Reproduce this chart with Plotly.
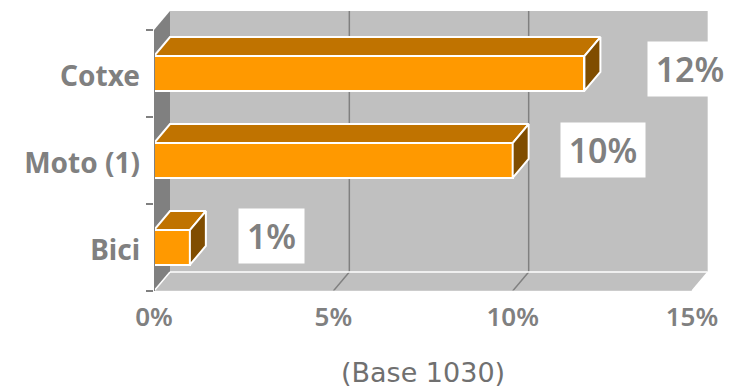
import plotly.graph_objects as go

categories = ["Bici", "Moto (1)", "Cotxe"]
values = [1, 10, 12]
value_labels = ["1%", "10%", "12%"]
x_ticks = [0, 5, 10, 15]
x_tick_labels = ["0%", "5%", "10%", "15%"]
footnote = "(Base 1030)"

ORANGE, TOP, SIDE = "#FF9900", "#C07300", "#804D00"
WALL, SIDEWALL, GREY = "#C0C0C0", "#808080", "#808080"
FONT = "Noto Sans"
W, H = 741, 388
L, R, T, B = 154, 708, 11, 291
DX, DY = 0.446, 0.218      # 3-D depth in axis units
BAR = 0.40
Y0, Y1 = -0.5, 2.5
XMAX = 15 + DX
LABEL_DX = [2.28, 2.52, 2.94]   # label centre distance from bar end
LABEL_DY = [0.13, 0.12, 0.05]
LABEL_W = [63, 82, 82]


def path(pts):
    return "M " + " L ".join(f"{x} {y}" for x, y in pts) + " Z"


shapes = [
    dict(type="path", path=path([(DX, Y0 + DY), (XMAX, Y0 + DY), (XMAX, Y1 + DY), (DX, Y1 + DY)]),
         fillcolor=WALL, line_width=0, layer="below"),
    dict(type="path", path=path([(0, Y0), (DX, Y0 + DY), (DX, Y1 + DY), (0, Y1)]),
         fillcolor=SIDEWALL, line_width=0, layer="below"),
    dict(type="path", path=path([(0, Y0), (15, Y0), (XMAX, Y0 + DY), (DX, Y0 + DY)]),
         fillcolor=WALL, line_width=0, layer="below"),
]
for t in x_ticks[1:-1]:
    shapes.append(dict(type="line", x0=t + DX, x1=t + DX, y0=Y0 + DY, y1=Y1 + DY,
                       line=dict(color=GREY, width=1.5), layer="below"))
    shapes.append(dict(type="line", x0=t, x1=t + DX, y0=Y0, y1=Y0 + DY,
                       line=dict(color=GREY, width=1.5), layer="below"))
shapes += [
    dict(type="line", x0=DX, x1=XMAX, y0=Y0 + DY, y1=Y0 + DY, line=dict(color="white", width=1.5), layer="below"),
    dict(type="line", x0=0, x1=DX, y0=Y0, y1=Y0 + DY, line=dict(color="white", width=1.5), layer="below"),
    dict(type="line", x0=15, x1=XMAX, y0=Y0, y1=Y0 + DY, line=dict(color="white", width=1.5), layer="below"),
    dict(type="line", x0=XMAX, x1=XMAX, y0=Y0 + DY, y1=Y1 + DY, line=dict(color="#E8E8E8", width=1), layer="below"),
    dict(type="line", x0=0, x1=15, y0=Y0, y1=Y0, line=dict(color="#D8D8D8", width=1), layer="below"),
    dict(type="line", x0=0, x1=0, y0=Y0, y1=Y1, line=dict(color=GREY, width=2), layer="above"),
]

fig = go.Figure()
fig.add_trace(go.Bar(y=list(range(len(categories))), x=values, orientation="h", width=BAR,
                     marker=dict(color=ORANGE, line=dict(color="white", width=2)), hoverinfo="skip"))

for i, v in enumerate(values):
    lo, hi = i - BAR / 2, i + BAR / 2
    fig.add_trace(go.Scatter(x=[0, DX, v + DX, v, 0], y=[hi, hi + DY, hi + DY, hi, hi],
                             mode="lines", fill="toself", fillcolor=TOP,
                             line=dict(color="white", width=2), hoverinfo="skip"))
    fig.add_trace(go.Scatter(x=[v, v + DX, v + DX, v, v], y=[hi, hi + DY, lo + DY, lo, hi],
                             mode="lines", fill="toself", fillcolor=SIDE,
                             line=dict(color="white", width=2), hoverinfo="skip"))

annotations = [
    dict(x=v + ox, y=i + oy, text=t, showarrow=False, xref="x", yref="y",
         bgcolor="white", width=w, height=52, align="center",
         font=dict(family=FONT, size=34, color=GREY, weight=600))
    for i, (v, t, ox, oy, w) in enumerate(zip(values, value_labels, LABEL_DX, LABEL_DY, LABEL_W))
]
annotations.append(dict(x=0.485, y=-0.352, text=footnote, showarrow=False, xref="paper", yref="paper",
                        font=dict(family="DejaVu Sans", size=27, color="#707070")))

fig.update_layout(
    width=W, height=H, autosize=False, showlegend=False, bargap=0,
    paper_bgcolor="white", plot_bgcolor="rgba(0,0,0,0)",
    margin=dict(l=L, r=W - R, t=T, b=H - B, pad=0),
    shapes=shapes, annotations=annotations,
    xaxis=dict(range=[0, XMAX], tickvals=x_ticks, ticktext=x_tick_labels, showgrid=False,
               zeroline=False, showline=False, ticks="", ticklabelstandoff=8,
               tickfont=dict(family=FONT, size=26, color=GREY, weight=600)),
    yaxis=dict(range=[Y0, Y1 + DY], tickvals=list(range(len(categories))), ticktext=categories,
               showgrid=False, zeroline=False, showline=False, ticks="", ticklabelstandoff=13,
               ticklabelshift=3,
               tickfont=dict(family=FONT, size=28, color=GREY, weight=700),
               minor=dict(tickvals=[-0.5, 0.5, 1.5, 2.5], ticks="outside", ticklen=7,
                          tickcolor=GREY, tickwidth=1.5, showgrid=False)),
)
fig.write_html("out.html", config=dict(displayModeBar=False),
               post_script="document.body.style.margin='0';document.documentElement.style.overflow='hidden';")
